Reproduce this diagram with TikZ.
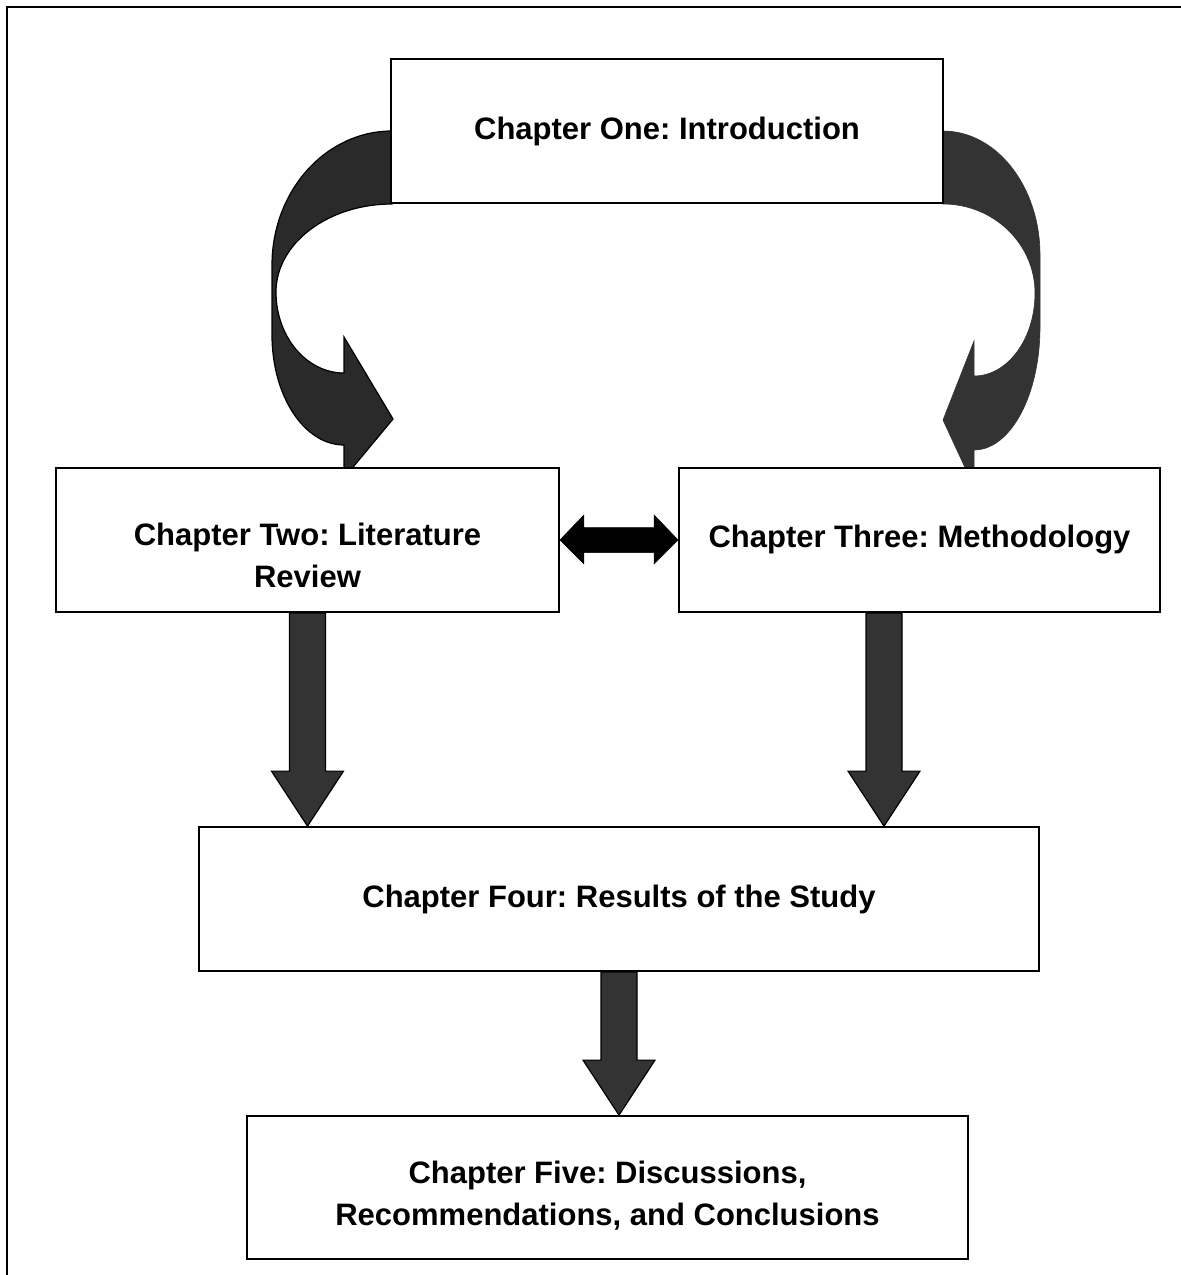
\documentclass[tikz,border=0pt]{standalone}
\usepackage{fontspec}
\setmainfont{Liberation Sans}
\usetikzlibrary{calc}

\definecolor{arrowfill}{RGB}{51,51,51}
\definecolor{curvefillA}{RGB}{42,42,42}

\tikzset{
  chapterbox/.style={draw=black, line width=1.8pt, fill=white, rectangle,
    align=center, inner sep=0pt,
    font=\fontsize{31}{36}\selectfont\bfseries\frenchspacing},
  boxtext/.style={align=center, inner sep=0pt,
    font=\fontsize{31}{36}\selectfont\bfseries\frenchspacing},
  fatarrow/.style={fill=arrowfill, draw=black, line width=1.2pt, line join=miter},
  curvedarrow/.style={fill=curvefillA, draw=black, line width=1.2pt},
  curvedarrowB/.style={fill=arrowfill, draw=arrowfill, line width=0.6pt},
  twowayarrow/.style={fill=black, draw=black, line width=0.5pt},
  framerule/.style={draw=black, line width=2.2pt}
}

% thick block arrow pointing down: #1 = start of shaft, #2 = tip
\newcommand\blockdown[2]{%
  \filldraw[fatarrow] let \p1=(#1), \p2=(#2) in
    (\x1-18pt,\y1) -- (\x1-18pt,\y2+55pt) -- (\x1-36pt,\y2+55pt) --
    (\x1,\y2) -- (\x1+36pt,\y2+55pt) -- (\x1+18pt,\y2+55pt) --
    (\x1+18pt,\y1) -- cycle;}

\begin{document}
\begin{tikzpicture}[x=1pt,y=-1pt]
\useasboundingbox (0,0) rectangle (1181,1275);

% page frame (open at right and bottom)
\draw[framerule] (7,1275) -- (7,7) -- (1181,7);

% curved arrow from Chapter One down to Chapter Two
\filldraw[curvedarrow]
  (392,131) .. controls (325.7,131) and (272,191) .. (272,265)
  -- (272,335) .. controls (272,395.8) and (304.2,445) .. (344,445)
  -- (344,478) -- (393,419) -- (344,337) -- (344,373)
  .. controls (306.4,373) and (276,336.7) .. (276,292)
  .. controls (276,243.4) and (328,204) .. (392,204) -- cycle;

% curved arrow from Chapter One down to Chapter Three
\filldraw[curvedarrowB]
  (943,131) .. controls (996.6,131) and (1040,186.5) .. (1040,255)
  -- (1040,327) .. controls (1040,395) and (1010.5,450) .. (974,450)
  -- (974,487) -- (943,420) -- (974,341) -- (974,376)
  .. controls (1007.7,376) and (1035,338.8) .. (1035,293)
  .. controls (1035,244) and (993.8,204) .. (943,204) -- cycle;

% chapter boxes
\node[chapterbox, minimum width=552pt, minimum height=144pt] (b1) at (667,131)
  {Chapter One: Introduction};
\node[chapterbox, minimum width=503pt, minimum height=144pt] (b2) at (307.5,540) {};
\node[boxtext] (b2t) at ($(b2.center)+(0,15)$)
  {Chapter Two: Literature\\[6pt]Review};
\node[chapterbox, minimum width=481pt, minimum height=144pt] (b3) at (919.5,540)
  {Chapter Three: Methodology};
\node[chapterbox, minimum width=840pt, minimum height=144pt] (b4) at (619,899)
  {Chapter Four: Results of the Study};
\node[chapterbox, minimum width=721pt, minimum height=143pt] (b5) at (607.5,1187.5) {};
\node[boxtext] (b5t) at ($(b5.center)+(0,8)$)
  {Chapter Five: Discussions,\\[6pt]Recommendations, and Conclusions};

% double-headed arrow between Chapter Two and Chapter Three
\filldraw[twowayarrow] let \p1=(b2.east), \p2=(b3.west) in
  (\x1,\y1) -- (\x1+24pt,\y1+25pt) -- (\x1+24pt,\y1+12.5pt) --
  (\x2-24pt,\y1+12.5pt) -- (\x2-24pt,\y1+25pt) -- (\x2,\y1) --
  (\x2-24pt,\y1-24pt) -- (\x2-24pt,\y1-12.5pt) --
  (\x1+24pt,\y1-12.5pt) -- (\x1+24pt,\y1-24pt) -- cycle;

% block arrows down
\coordinate (s2) at (b2.south);
\coordinate (t2) at (b2.south |- b4.north);
\coordinate (s3) at ($(b3.south)+(-35.5,0)$);
\coordinate (t3) at (s3 |- b4.north);
\coordinate (s4) at (b4.south);
\coordinate (t4) at (b4.south |- b5.north);
\blockdown{s2}{t2}
\blockdown{s3}{t3}
\blockdown{s4}{t4}

\end{tikzpicture}
\end{document}
